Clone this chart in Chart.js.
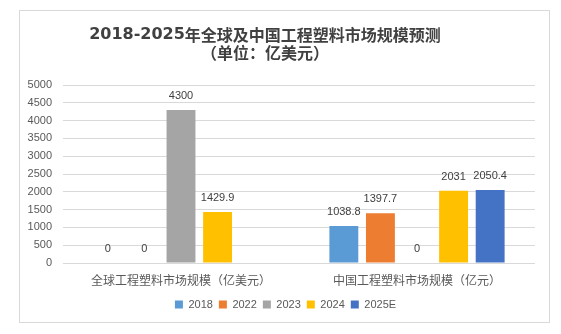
<!DOCTYPE html>
<html>
<head>
<meta charset="utf-8">
<script src="https://cdn.jsdelivr.net/npm/chart.js@4.4.0/dist/chart.umd.min.js"></script>
<style>
  html, body { margin: 0; padding: 0; background: #ffffff; }
  #wrap { position: relative; width: 561px; height: 334px; }
</style>
</head>
<body>
<div id="wrap"><canvas id="c" width="561" height="334"></canvas></div>
<script>
// Market size categories and yearly series
const categories = ['全球工程塑料市场规模（亿美元）', '中国工程塑料市场规模（亿元）'];
const seriesNames = ['2018', '2022', '2023', '2024', '2025E'];
const v2018  = [0, 1038.8];
const v2022  = [0, 1397.7];
const v2023  = [4300, 0];
const v2024  = [1429.9, 2031];
const v2025E = [null, 2050.4];
const yTicks = [0, 500, 1000, 1500, 2000, 2500, 3000, 3500, 4000, 4500, 5000];
const titleYears = '2018-2025';
const titleRest = '年全球及中国工程塑料市场规模预测';
const subtitle = '（单位：亿美元）';

const seriesValues = [v2018, v2022, v2023, v2024, v2025E];
const seriesColors = ['#5B9BD5', '#ED7D31', '#A5A5A5', '#FFC000', '#4472C4'];

const baseFont = '"Liberation Sans", "Noto Sans CJK SC", sans-serif';
Chart.defaults.font.family = baseFont;
Chart.defaults.color = '#595959';

// White background plus the thin frame around the whole chart
const framePlugin = {
  id: 'frame',
  beforeDraw(chart) {
    const ctx = chart.ctx;
    ctx.save();
    ctx.fillStyle = '#ffffff';
    ctx.fillRect(0, 0, chart.width, chart.height);
    ctx.strokeStyle = '#d9d9d9';
    ctx.lineWidth = 1;
    ctx.strokeRect(19.5, 10.5, 530, 312);
    ctx.restore();
  }
};

// Two-line heading: bold year range followed by the CJK text
const headingPlugin = {
  id: 'heading',
  afterDraw(chart) {
    const ctx = chart.ctx;
    const cx = 265;
    const fYears = 'bold 16px "DejaVu Sans", sans-serif';
    const fCjk = '600 16px "Noto Sans CJK SC", sans-serif';
    ctx.save();
    ctx.fillStyle = '#404040';
    ctx.textBaseline = 'middle';
    ctx.textAlign = 'left';
    ctx.font = fYears;
    const w1 = ctx.measureText(titleYears).width;
    ctx.font = fCjk;
    const w2 = ctx.measureText(titleRest).width;
    let x = cx - (w1 + w2) / 2;
    ctx.font = fYears;
    ctx.fillText(titleYears, x, 35);
    ctx.font = fCjk;
    ctx.fillText(titleRest, x + w1, 35);
    ctx.textAlign = 'center';
    ctx.fillText(subtitle, cx, 53);
    ctx.restore();
  }
};

// Value labels above each bar
const valueLabelPlugin = {
  id: 'valueLabels',
  afterDatasetsDraw(chart) {
    const ctx = chart.ctx;
    ctx.save();
    ctx.fillStyle = '#404040';
    ctx.font = '11px ' + baseFont;
    ctx.textAlign = 'center';
    ctx.textBaseline = 'middle';
    chart.data.datasets.forEach((ds, di) => {
      const meta = chart.getDatasetMeta(di);
      meta.data.forEach((bar, i) => {
        const v = ds.data[i];
        if (v === null || v === undefined) return;
        ctx.fillText(String(v), bar.x, bar.y - 14);
      });
    });
    ctx.restore();
  }
};

// Nudge the legend row so it sits centred under the plot
const legendShiftPlugin = {
  id: 'legendShift',
  afterLayout(chart) {
    if (chart.legend) {
      chart.legend.left += 18;
      chart.legend.right += 18;
    }
  }
};

new Chart(document.getElementById('c'), {
  type: 'bar',
  data: {
    labels: categories,
    datasets: seriesNames.map((name, k) => ({
      label: name,
      data: seriesValues[k],
      backgroundColor: seriesColors[k],
      borderWidth: 0,
      categoryPercentage: 0.775,
      barPercentage: 0.79
    }))
  },
  options: {
    responsive: false,
    animation: false,
    devicePixelRatio: 1,
    layout: { padding: { top: 85, right: 26, left: 0, bottom: 14 } },
    plugins: {
      title: { display: false },
      tooltip: { enabled: false },
      legend: {
        position: 'bottom',
        labels: {
          boxWidth: 8,
          boxHeight: 8,
          padding: 6,
          color: '#595959',
          font: { size: 11 }
        }
      }
    },
    scales: {
      x: {
        grid: { display: false },
        border: { display: false },
        ticks: {
          color: '#595959',
          font: { size: 12 },
          padding: 3,
          maxRotation: 0
        },
        afterFit(scale) { scale.height = 30; }
      },
      y: {
        min: 0,
        max: 5000,
        afterBuildTicks(scale) { scale.ticks = yTicks.map(v => ({ value: v })); },
        grid: { color: '#d9d9d9', drawTicks: false },
        border: { display: false },
        ticks: {
          color: '#595959',
          font: { size: 11 },
          padding: 11,
          callback: v => String(v)
        },
        afterFit(scale) { scale.width = 63; }
      }
    }
  },
  plugins: [framePlugin, headingPlugin, valueLabelPlugin, legendShiftPlugin]
});
</script>
</body>
</html>
